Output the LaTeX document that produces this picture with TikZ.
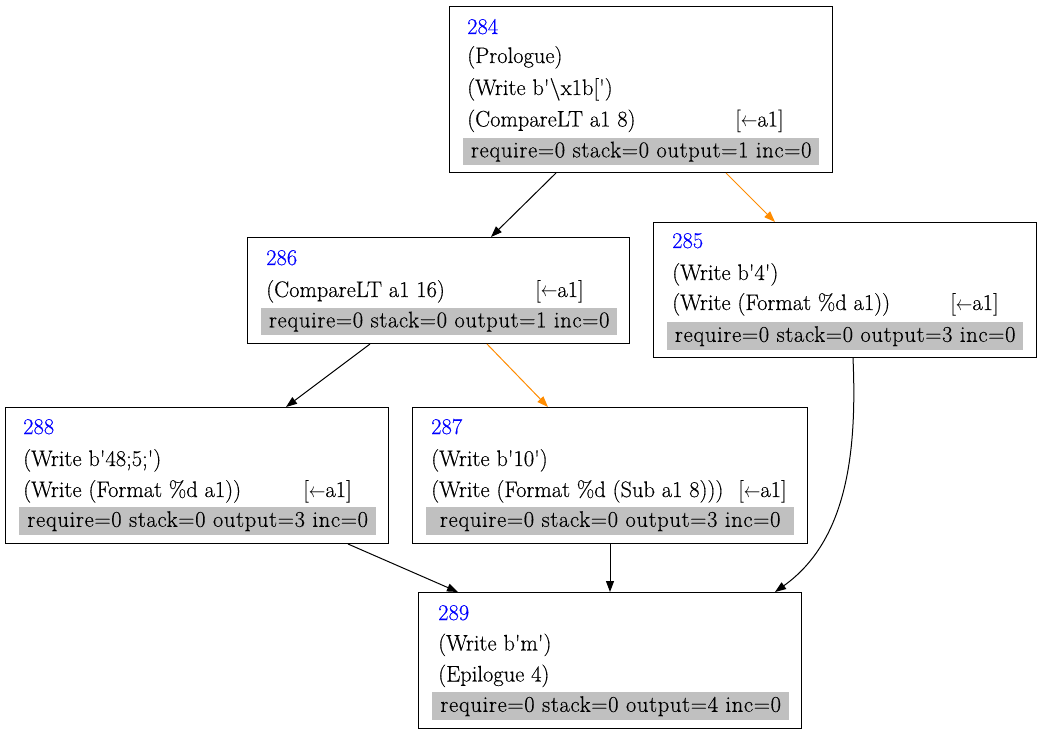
\documentclass[tikz,border=0pt]{standalone}
\usepackage{graphicx}
\usepackage{fontspec}
\setmainfont{Latin Modern Roman}[FakeBold=0.35]
\usetikzlibrary{arrows.meta}
\definecolor{idblue}{HTML}{0000FF}
\definecolor{hotedge}{HTML}{FF8C00}
\definecolor{barg}{HTML}{C0C0C0}
\newcommand\fs{\fontsize{22.5}{26}\selectfont}
\newcommand\apos{\textquotesingle}
\newcommand\larr{[\scalebox{0.8}[1]{$\leftarrow$}a1]}
\tikzset{
  blk/.style={draw=black, line width=1pt, anchor=north west, inner sep=0pt},
  bar/.style={fill=barg, anchor=north west, inner sep=0pt, font=\fs\addfontfeatures{LetterSpace=3}},
  txt/.style={anchor=base west, inner sep=0pt, font=\fs},
  idtxt/.style={txt, text=idblue},
  edge/.style={-{Triangle[length=11pt,width=8pt]}, line width=1pt, draw=black},
  hot/.style={edge, draw=hotedge},
}
\begin{document}
\begin{tikzpicture}[x=1pt,y=-1pt]
\useasboundingbox[fill=white] (0,0) rectangle (1041,735);

% block 284
\node[blk, minimum width=383pt, minimum height=166pt] (n284) at (449,6) {};
\node[idtxt] (t284) at (467,34) {284};
\node[txt] (t284a) at (467,63) {(Prologue)};
\node[txt] (t284b) at (467,95) {(Write b\apos\textbackslash x1b[\apos)};
\node[txt] (t284c) at (467,126.5) {(CompareLT a1 8)};
\node[txt] (t284d) at (735,126.5) {\larr};
\node[bar, minimum width=356pt, minimum height=27pt] (g284) at (463,138) {require=0 stack=0 output=1 inc=0};

% block 286
\node[blk, minimum width=382pt, minimum height=106pt] (n286) at (247,237) {};
\node[idtxt] (t286) at (266,265) {286};
\node[txt] (t286a) at (266,297) {(CompareLT a1 16)};
\node[txt] (t286b) at (535,297) {\larr};
\node[bar, minimum width=356pt, minimum height=27pt] (g286) at (261,308) {require=0 stack=0 output=1 inc=0};

% block 285
\node[blk, minimum width=383pt, minimum height=135pt] (n285) at (653,222) {};
\node[idtxt] (t285) at (672,248) {285};
\node[txt] (t285a) at (672,280) {(Write b\apos 4\apos)};
\node[txt] (t285b) at (672,310) {(Write (Format \%d a1))};
\node[txt] (t285c) at (950,310) {\larr};
\node[bar, minimum width=356pt, minimum height=28pt] (g285) at (667,322) {require=0 stack=0 output=3 inc=0};

% block 288
\node[blk, minimum width=383pt, minimum height=136pt] (n288) at (5,407) {};
\node[idtxt] (t288) at (23,434) {288};
\node[txt] (t288a) at (23,466) {(Write b\apos 48;5;\apos)};
\node[txt] (t288b) at (23,497) {(Write (Format \%d a1))};
\node[txt] (t288c) at (303,497) {\larr};
\node[bar, minimum width=357pt, minimum height=28pt] (g288) at (19,507) {require=0 stack=0 output=3 inc=0};

% block 287
\node[blk, minimum width=395pt, minimum height=136pt] (n287) at (412,407) {};
\node[idtxt] (t287) at (431,434) {287};
\node[txt] (t287a) at (431,466) {(Write b\apos 10\apos)};
\node[txt] (t287b) at (431,497) {(Write (Format \%d (Sub a1 8)))};
\node[txt] (t287c) at (738,497) {\larr};
\node[bar, minimum width=368pt, minimum height=28pt] (g287) at (426,507) {require=0 stack=0 output=3 inc=0};

% block 289
\node[blk, minimum width=383pt, minimum height=136pt] (n289) at (418,592) {};
\node[idtxt] (t289) at (438,620) {289};
\node[txt] (t289a) at (438,650.5) {(Write b\apos m\apos)};
\node[txt] (t289b) at (438,681.5) {(Epilogue 4)};
\node[bar, minimum width=357pt, minimum height=28pt] (g289) at (432,692) {require=0 stack=0 output=4 inc=0};

% control-flow edges
\draw[edge] ([xshift=107pt]n284.south west) -- ([xshift=244pt]n286.north west);
\draw[hot]  ([xshift=277pt]n284.south west) -- ([xshift=122pt]n285.north west);
\draw[edge] ([xshift=123pt]n286.south west) -- ([xshift=281pt]n288.north west);
\draw[hot]  ([xshift=240pt]n286.south west) -- ([xshift=136pt]n287.north west);
\draw[edge] ([xshift=343pt]n288.south west) -- ([xshift=40pt]n289.north west);
\draw[edge] ([xshift=198pt]n287.south west) -- ([xshift=192pt]n289.north west);
\draw[edge] ([xshift=200pt]n285.south west) .. controls (857,450) and (848,540) .. ([xshift=357pt]n289.north west);
\end{tikzpicture}
\end{document}
